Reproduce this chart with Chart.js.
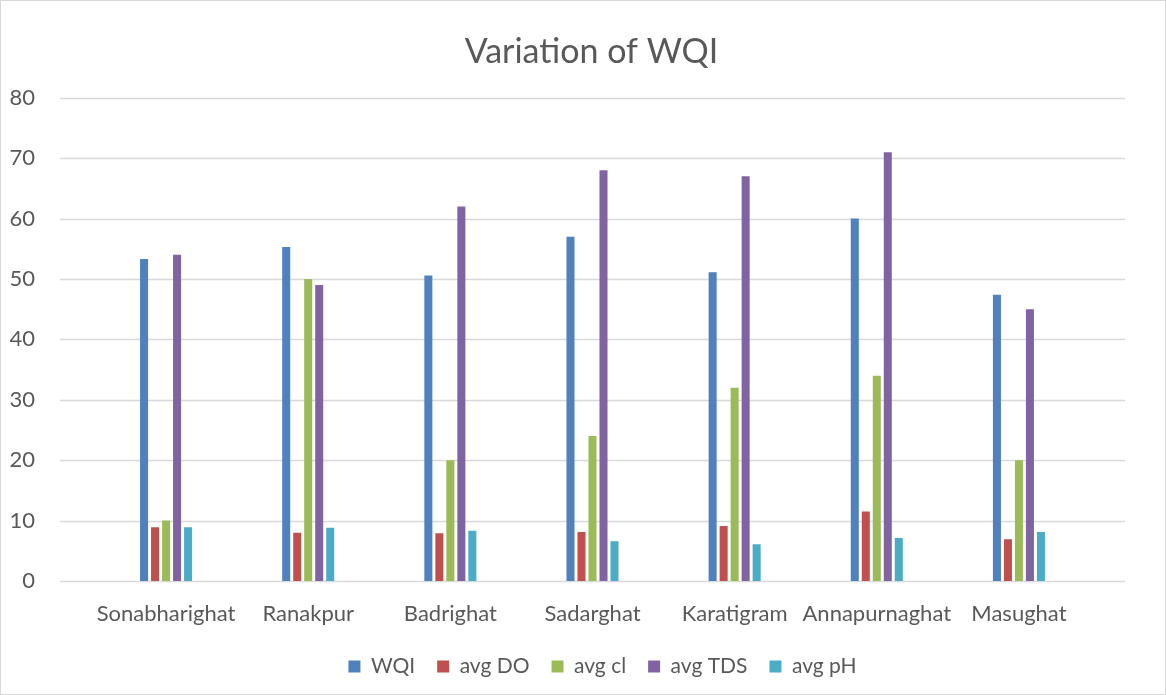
<!DOCTYPE html>
<html lang="en">
<head>
  <meta charset="UTF-8" />
  <title>Variation of WQI</title>
  <script src="https://cdn.jsdelivr.net/npm/chart.js"></script>
  <style>
    * { margin: 0; padding: 0; box-sizing: border-box; }
    body { background: #fff; width: 1166px; height: 695px; overflow: hidden; }
    .frame {
      position: absolute; left: 0; top: 0;
      width: 1166px; height: 695px;
      border: 1px solid #d9d9d9;
    }
    canvas { display: block; }
  </style>
</head>
<body>
  <div class="frame">
    <canvas id="wqiChart" width="1164" height="693"></canvas>
  </div>

  <script>
    const sites = ['Sonabharighat', 'Ranakpur', 'Badrighat', 'Sadarghat', 'Karatigram', 'Annapurnaghat', 'Masughat'];
    const wqi    = [53.3, 55.3, 50.6, 57.0, 51.1, 60.0, 47.4];
    const avgDO  = [8.9, 8.0, 7.9, 8.1, 9.1, 11.5, 6.9];
    const avgCl  = [10, 50, 20, 24, 32, 34, 20];
    const avgTDS = [54, 49, 62, 68, 67, 71, 45];
    const avgPH  = [8.9, 8.8, 8.3, 6.6, 6.1, 7.1, 8.1];

    const textColor = '#595959';
    const gridColor = '#d9d9d9';
    const font = 'Lato, "Open Sans", sans-serif';

    // Excel-style gridlines that run a bit past the category area on both sides
    const wideGrid = {
      id: 'wideGrid',
      afterLayout(chart) {
        // title and legend are centred on the whole picture, not the plot
        chart.titleBlock.left += 46;
        chart.titleBlock.right += 46;
        chart.legend.left += 57;
        chart.legend.right += 57;
      },
      beforeDatasetsDraw(chart) {
        const { ctx, chartArea, scales: { y } } = chart;
        ctx.save();
        ctx.strokeStyle = gridColor;
        ctx.lineWidth = 1.5;
        y.ticks.forEach(t => {
          const py = Math.round(y.getPixelForValue(t.value)) + 0.5;
          ctx.beginPath();
          ctx.moveTo(chartArea.left - 35, py);
          ctx.lineTo(chartArea.right + 35, py);
          ctx.stroke();
        });
        ctx.restore();
      }
    };

    const ds = (label, data, color) => ({
      label, data,
      backgroundColor: color,
      borderWidth: 0,
      barPercentage: 0.73,
      categoryPercentage: 0.387
    });

    new Chart(document.getElementById('wqiChart'), {
      type: 'bar',
      data: {
        labels: sites,
        datasets: [
          ds('WQI', wqi, '#4F81BD'),
          ds('avg DO', avgDO, '#C0504D'),
          ds('avg cl', avgCl, '#9BBB59'),
          ds('avg TDS', avgTDS, '#8064A2'),
          ds('avg pH', avgPH, '#4BACC6')
        ]
      },
      options: {
        responsive: false,
        animation: false,
        layout: { padding: { left: 0, right: 75, top: 31, bottom: 7 } },
        plugins: {
          title: {
            display: true,
            text: 'Variation of WQI',
            color: textColor,
            font: { family: font, size: 34, weight: 'normal' },
            padding: { top: 0, bottom: 25 }
          },
          legend: {
            position: 'bottom',
            labels: {
              color: textColor,
              font: { family: font, size: 21 },
              boxWidth: 12,
              boxHeight: 12,
              padding: 22
            }
          },
          tooltip: { enabled: false }
        },
        scales: {
          y: {
            min: 0, max: 80,
            ticks: { stepSize: 10, color: textColor, font: { family: font, size: 22 }, padding: 60 },
            grid: { display: false, drawTicks: false },
            border: { display: false },
            afterFit: (scale) => { scale.width = 94; }
          },
          x: {
            ticks: { color: textColor, font: { family: font, size: 22 }, padding: 20, maxRotation: 0, autoSkip: false },
            grid: { display: false, drawTicks: false },
            border: { display: false },
            afterFit: (scale) => { scale.height = 53; }
          }
        }
      },
      plugins: [wideGrid]
    });
  </script>
</body>
</html>
